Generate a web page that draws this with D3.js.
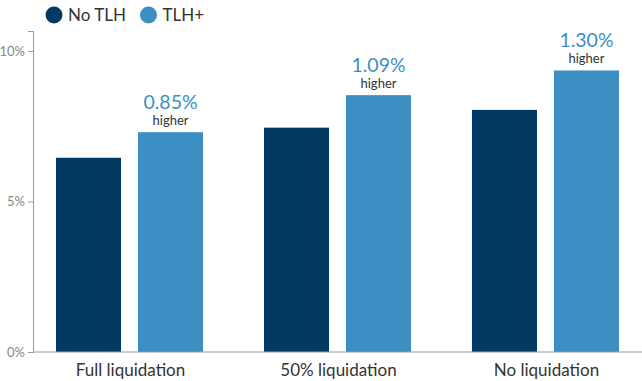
<!DOCTYPE html>
<html>
<head>
<meta charset="utf-8">
<script src="https://cdn.jsdelivr.net/npm/d3@7"></script>
<style>
  body { margin: 0; background: #fff; }
  svg { font-family: Lato, "Open Sans", sans-serif; }
</style>
</head>
<body>
<svg id="chart" width="642" height="381"></svg>
<script>
var categories = ['Full liquidation', '50% liquidation', 'No liquidation'];
var series = ['No TLH', 'TLH+'];
var noTlh = [6.45, 7.45, 8.04];
var tlhPlus = [7.30, 8.53, 9.35];
var diffLabels = ['0.85%', '1.09%', '1.30%'];
var yTicks = [0, 5, 10];

var colors = ['#033a64', '#3c8fc3'];

var svg = d3.select('#chart');

var x = d3.scaleBand()
    .domain(categories)
    .range([25.5, 649.5])
    .paddingInner(0.293)
    .paddingOuter(0.1467);

var xSub = d3.scaleBand()
    .domain(series)
    .range([0, x.bandwidth()])
    .paddingInner(0.207);

var y = d3.scaleLinear()
    .domain([0, 10.66])
    .range([352, 31]);

// y axis
var yAxis = svg.append('g')
    .attr('transform', 'translate(33,0)')
    .call(d3.axisLeft(y).tickValues(yTicks).tickSize(5).tickPadding(3)
        .tickFormat(function(d) { return d + '%'; }));
yAxis.select('.domain').attr('stroke', '#999');
yAxis.selectAll('.tick line').attr('stroke', '#999');
yAxis.selectAll('.tick text')
    .attr('fill', '#888')
    .attr('font-size', 13)
    .attr('font-family', 'Lato, sans-serif');

// bars
var rows = categories.map(function(c, i) {
    return { cat: c, vals: [noTlh[i], tlhPlus[i]], diff: diffLabels[i] };
});

var groups = svg.selectAll('.grp')
    .data(rows)
    .enter().append('g')
    .attr('class', 'grp')
    .attr('transform', function(d) { return 'translate(' + x(d.cat) + ',0)'; });

groups.selectAll('rect')
    .data(function(d) { return d.vals.map(function(v, j) { return { s: series[j], v: v, j: j }; }); })
    .enter().append('rect')
    .attr('x', function(d) { return xSub(d.s); })
    .attr('y', function(d) { return y(d.v); })
    .attr('width', xSub.bandwidth())
    .attr('height', function(d) { return y(0) - y(d.v); })
    .attr('fill', function(d) { return colors[d.j]; });

// annotations above TLH+ bars
groups.append('text')
    .attr('x', xSub('TLH+') + xSub.bandwidth() / 2)
    .attr('y', function(d) { return y(d.vals[1]) - 23; })
    .attr('text-anchor', 'middle')
    .attr('font-size', 19.5)
    .attr('fill', colors[1])
    .text(function(d) { return d.diff; });

groups.append('text')
    .attr('x', xSub('TLH+') + xSub.bandwidth() / 2)
    .attr('y', function(d) { return y(d.vals[1]) - 7; })
    .attr('text-anchor', 'middle')
    .attr('font-size', 13)
    .attr('fill', '#333')
    .text('higher');

// baseline
svg.append('line')
    .attr('x1', 33).attr('x2', 642)
    .attr('y1', y(0)).attr('y2', y(0))
    .attr('stroke', '#999');

// category labels
svg.selectAll('.cat')
    .data(categories)
    .enter().append('text')
    .attr('class', 'cat')
    .attr('x', function(d) { return x(d) + x.bandwidth() / 2 + 1; })
    .attr('y', 376)
    .attr('text-anchor', 'middle')
    .attr('font-size', 17)
    .attr('fill', '#333')
    .text(function(d) { return d; });

// legend
var legendX = [54, 148.5];
var legend = svg.selectAll('.leg')
    .data(series)
    .enter().append('g')
    .attr('class', 'leg')
    .attr('transform', function(d, i) { return 'translate(' + legendX[i] + ',15)'; });
legend.append('circle')
    .attr('r', 8.5)
    .attr('fill', function(d, i) { return colors[i]; });
legend.append('text')
    .attr('x', 14)
    .attr('y', 6)
    .attr('font-size', 17)
    .attr('fill', '#333')
    .text(function(d) { return d; });
</script>
</body>
</html>
